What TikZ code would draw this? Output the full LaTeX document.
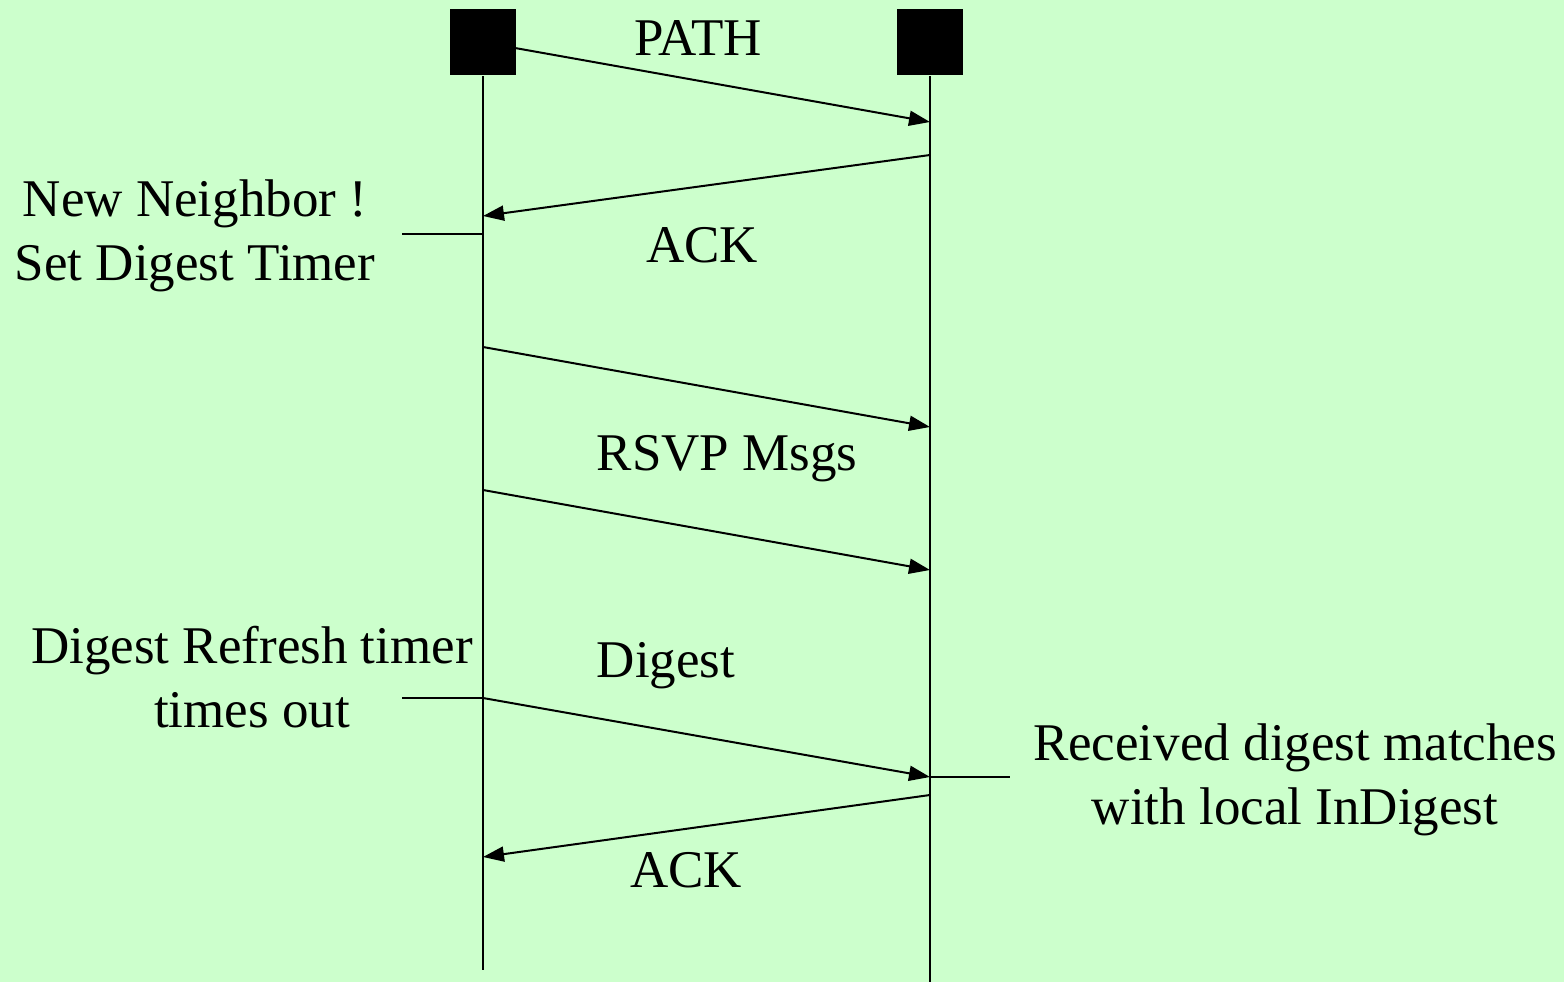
\documentclass[tikz,border=0pt]{standalone}
\usepackage{fontspec}
\setmainfont{Liberation Serif}
\usetikzlibrary{arrows.meta}
\begin{document}
\begin{tikzpicture}[x=1pt,y=-1pt,
  line width=2pt,
  msg/.style={-{Triangle[length=21pt,width=15pt]}},
  lbl/.style={font=\fontsize{53}{64}\selectfont, align=center, inner sep=0pt},
  box/.style={fill=black, minimum size=66pt, inner sep=0pt, draw=none}]
\fill[fill={rgb,255:red,204;green,255;blue,204}] (0,0) rectangle (1564,982);
\useasboundingbox (0,0) rectangle (1564,982);
\node[box] (A) at (483,42.5) {};
\node[box] (B) at (930,42.5) {};
\coordinate (Aend) at (483,970);
\coordinate (Bend) at (930,982);
\draw (A.south) -- (Aend);
\draw (B.south) -- (Bend);
% points
\coordinate (p1s) at (515,48); \coordinate (p1e) at (930,122);
\coordinate (p2s) at (930,155); \coordinate (p2e) at (483,216);
\coordinate (p3s) at (483,347); \coordinate (p3e) at (930,427);
\coordinate (p4s) at (483,490); \coordinate (p4e) at (930,570);
\coordinate (p5s) at (483,698); \coordinate (p5e) at (930,777);
\coordinate (p6s) at (930,795); \coordinate (p6e) at (483,857);
\draw[msg] (p1s) -- (p1e);
\draw[msg] (p2s) -- (p2e);
\draw[msg] (p3s) -- (p3e);
\draw[msg] (p4s) -- (p4e);
\draw[msg] (p5s) -- (p5e);
\draw[msg] (p6s) -- (p6e);
% ticks
\coordinate (t1) at (402,234); \coordinate (t1b) at (483,234);
\coordinate (t2) at (402,698);
\coordinate (t3) at (1010,777);
\draw (t1) -- (t1b);
\draw (t2) -- (p5s);
\draw (p5e) -- (t3);
% labels
\node[lbl] (lpath) at (698,38) {PATH};
\node[lbl] (lack1) at (702,245) {ACK};
\node[lbl] (lrsvp) at (727,459) {RSVP Msgs};
\node[lbl] (ldig) at (666,666) {Digest};
\node[lbl] (lack2) at (686,870) {ACK};
\node[lbl] (lnew) at (195,236) {New Neighbor !\\Set Digest Timer};
\node[lbl] (lref) at (252,677) {Digest Refresh timer\\times out};
\node[lbl] (lrec) at (1295,780) {Received digest matches\\with local InDigest};
\end{tikzpicture}
\end{document}
